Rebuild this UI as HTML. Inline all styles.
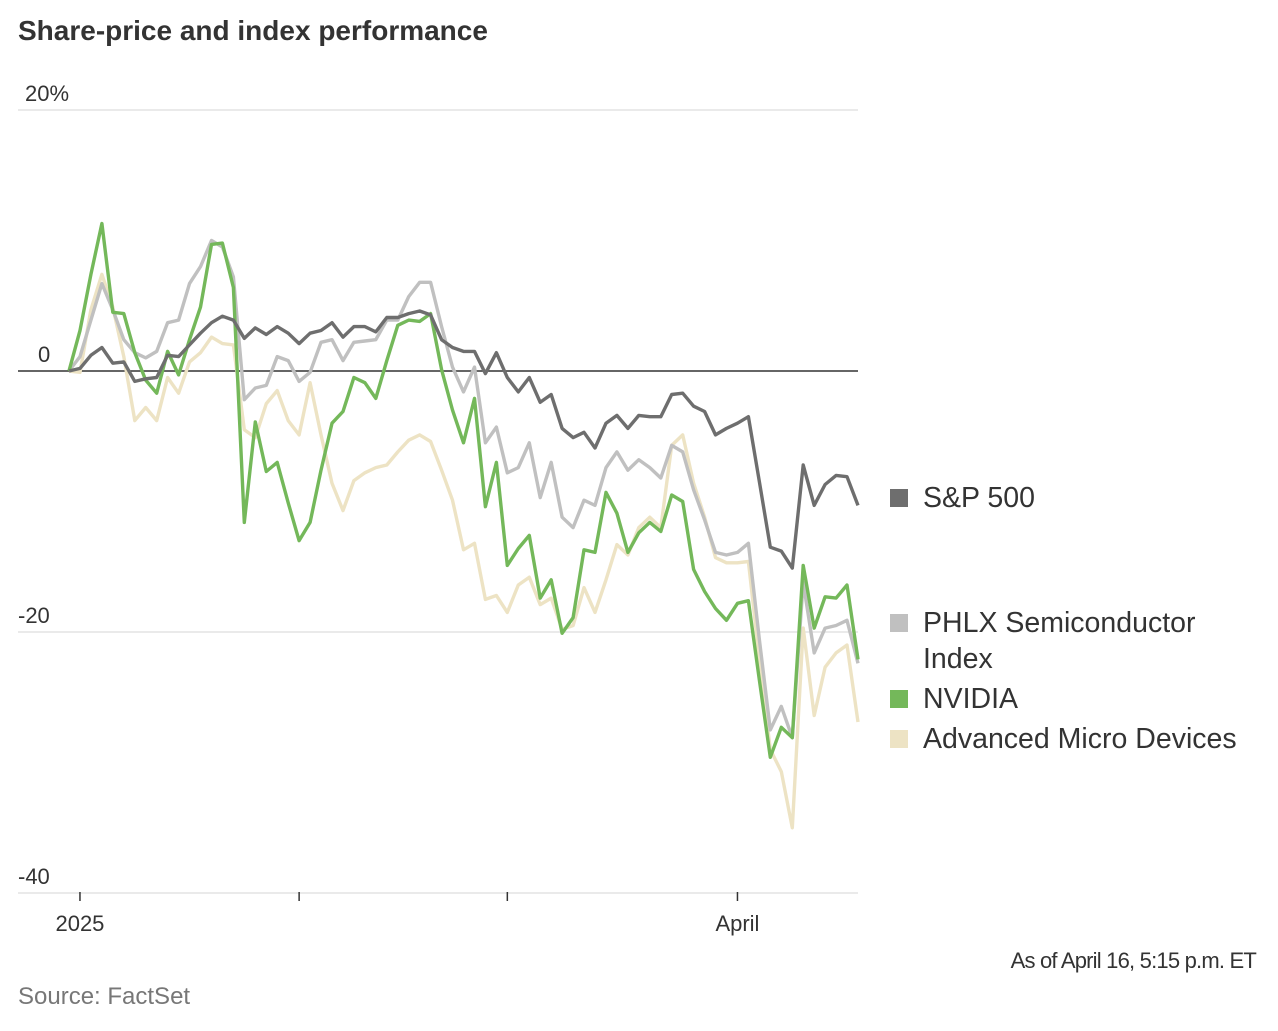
<!DOCTYPE html>
<html><head><meta charset="utf-8"><style>
body{margin:0;background:#fff;width:1278px;height:1026px;overflow:hidden;font-family:"Liberation Sans",sans-serif;}
</style></head><body>
<svg width="1278" height="1026" xmlns="http://www.w3.org/2000/svg">
<text x="18" y="40" font-size="28" font-weight="bold" fill="#333">Share-price and index performance</text>
<g id="grid"></g>
<g id="lines"></g>
<g font-size="28.5" fill="#333">
<g><rect x="890" y="489" width="18" height="18" fill="#6e6e6e"/><text x="923" y="507">S&amp;P 500</text></g>
<g><rect x="890" y="614" width="18" height="18" fill="#c0c0c0"/><text x="923" y="632">PHLX Semiconductor</text><text x="923" y="668">Index</text></g>
<g><rect x="890" y="690" width="18" height="18" fill="#74b85a"/><text x="923" y="708">NVIDIA</text></g>
<g><rect x="890" y="730" width="18" height="18" fill="#ede3c4"/><text x="923" y="748">Advanced Micro Devices</text></g>
</g>
<text x="1256" y="968" font-size="22" fill="#333" text-anchor="end" style="letter-spacing:-0.8px">As of April 16, 5:15 p.m. ET</text>
<text x="18" y="1004" font-size="24" fill="#777">Source: FactSet</text>
</svg>
<script>
const yTicks=[20,0,-20,-40];
const yTickLabels=["20%","0","-20","-40"];
const xTickIdx=[1,21,40,61];
const xTickLabels=["2025","","","April"];
const sp500=[0,0.2,1.2,1.8,0.6,0.7,-0.8,-0.6,-0.5,1.2,1.1,2.0,2.9,3.7,4.2,3.9,2.5,3.3,2.8,3.4,2.9,2.1,2.9,3.1,3.7,2.6,3.4,3.4,3.0,4.1,4.1,4.4,4.6,4.3,2.4,1.8,1.5,1.5,-0.2,1.4,-0.5,-1.6,-0.5,-2.4,-1.8,-4.4,-5.1,-4.7,-5.9,-4.0,-3.4,-4.4,-3.4,-3.5,-3.5,-1.8,-1.7,-2.7,-3.1,-4.9,-4.4,-4.0,-3.5,-8.5,-13.5,-13.8,-15.1,-7.2,-10.3,-8.7,-8.0,-8.1,-10.3];
const phlx=[0,1.1,3.9,6.7,4.7,2.4,1.4,1.0,1.5,3.7,3.9,6.7,8.0,10.0,9.5,7.2,-2.2,-1.3,-1.1,1.1,0.8,-0.8,-0.1,2.2,2.4,0.8,2.2,2.3,2.4,3.9,3.9,5.7,6.8,6.8,3.4,0.3,-1.6,0.3,-5.5,-4.3,-7.8,-7.4,-5.5,-9.7,-7.0,-11.2,-12.0,-9.9,-10.3,-7.4,-6.2,-7.6,-6.8,-7.4,-8.2,-5.7,-6.2,-9.1,-11.4,-13.9,-14.1,-13.9,-13.2,-20.6,-27.5,-25.7,-28.1,-16.2,-21.6,-19.7,-19.5,-19.1,-22.4];
const nvidia=[0,3.1,7.4,11.3,4.5,4.4,1.4,-0.7,-1.7,1.5,-0.3,2.4,4.9,9.7,9.8,6.4,-11.6,-3.9,-7.7,-7.0,-10.1,-13.0,-11.6,-7.6,-4.0,-3.1,-0.5,-0.9,-2.1,0.8,3.5,3.9,3.8,4.4,0.1,-3.0,-5.5,-2.1,-10.4,-7.0,-14.9,-13.6,-12.6,-17.4,-16.0,-20.1,-18.9,-13.7,-13.9,-9.3,-10.9,-13.9,-12.4,-11.6,-12.3,-9.5,-10.0,-15.2,-16.9,-18.2,-19.1,-17.8,-17.6,-23.7,-29.6,-27.3,-28.1,-14.9,-19.7,-17.3,-17.4,-16.4,-22.1];
const amd=[0,-0.1,4.7,7.4,4.9,1.1,-3.8,-2.8,-3.8,-0.5,-1.7,0.7,1.4,2.6,2.1,2.0,-4.5,-5.1,-2.5,-1.5,-3.8,-4.9,-0.9,-4.9,-8.6,-10.7,-8.4,-7.8,-7.4,-7.2,-6.2,-5.3,-4.9,-5.4,-7.6,-9.9,-13.7,-13.2,-17.5,-17.2,-18.5,-16.4,-15.8,-17.9,-17.4,-19.8,-19.5,-16.6,-18.5,-16.0,-13.3,-14.1,-12.0,-11.2,-12.0,-5.7,-4.9,-8.6,-11.2,-14.3,-14.7,-14.7,-14.6,-22.1,-29.0,-30.7,-35.0,-19.7,-26.4,-22.7,-21.6,-21.0,-26.9];
const NS="http://www.w3.org/2000/svg";
const x0=69,x1=858,n=sp500.length;
function xs(i){return x0+(x1-x0)*i/(n-1);}
function ys(v){return 371-v*13.05;}
const grid=document.getElementById('grid');
yTicks.forEach((t,k)=>{
  const l=document.createElementNS(NS,'line');
  
  
  l.setAttribute('x1',18);l.setAttribute('x2',858);
  l.setAttribute('y1',ys(t));l.setAttribute('y2',ys(t));
  l.setAttribute('stroke',t===0?'#333':'#ddd');l.setAttribute('stroke-width',t===0?1.5:1.2);
  grid.appendChild(l);
  const tx=document.createElementNS(NS,'text');
  
  
  tx.setAttribute('x',t===20?25:(t===0?38:18));tx.setAttribute('y',ys(t)-9);
  tx.setAttribute('font-size','22');tx.setAttribute('fill','#333');
  tx.textContent=yTickLabels[k];grid.appendChild(tx);
});
xTickIdx.forEach((i,k)=>{
  const l=document.createElementNS(NS,'line');
  
  
  l.setAttribute('x1',xs(i));l.setAttribute('x2',xs(i));
  l.setAttribute('y1',892);l.setAttribute('y2',901);
  l.setAttribute('stroke','#333');l.setAttribute('stroke-width',1.5);
  grid.appendChild(l);
  if(xTickLabels[k]){
    const tx=document.createElementNS(NS,'text');
    
    
    tx.setAttribute('x',xs(i));tx.setAttribute('y',931);
    tx.setAttribute('text-anchor','middle');tx.setAttribute('font-size','22');tx.setAttribute('fill','#333');
    tx.textContent=xTickLabels[k];grid.appendChild(tx);
  }
});
const lines=document.getElementById('lines');
[[amd,'#ede3c4','line-amd'],[phlx,'#c0c0c0','line-phlx'],[nvidia,'#74b85a','line-nvidia'],[sp500,'#6e6e6e','line-sp500']].forEach(s=>{
  const p=document.createElementNS(NS,'polyline');
  
  
  p.setAttribute('points',s[0].map((v,i)=>xs(i).toFixed(1)+','+ys(v).toFixed(1)).join(' '));
  p.setAttribute('fill','none');p.setAttribute('stroke',s[1]);p.setAttribute('stroke-width',3.4);
  p.setAttribute('stroke-linejoin','round');
  lines.appendChild(p);
});
</script>
</body></html>
